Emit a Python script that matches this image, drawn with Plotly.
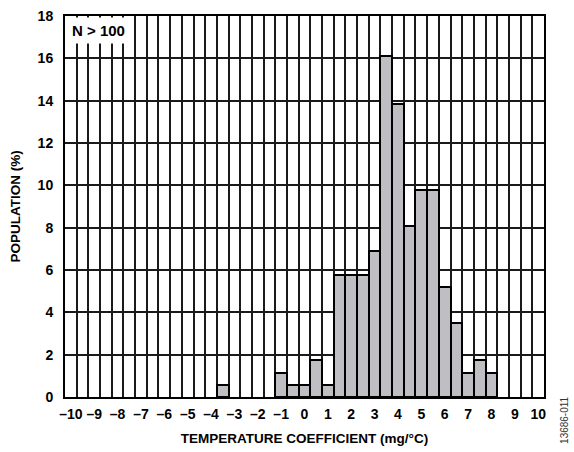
import plotly.graph_objects as go
import numpy as np

# Bin centers (mg/°C) and population (%)
bin_centers = [-3.5, -1.0, -0.5, 0.0, 0.5, 1.0, 1.5, 2.0, 2.5, 3.0, 3.5, 4.0, 4.5, 5.0, 5.5, 6.0, 6.5, 7.0, 7.5, 8.0]
population = [0.57, 1.15, 0.57, 0.57, 1.75, 0.57, 5.76, 5.76, 5.76, 6.92, 16.1, 13.85, 8.08, 9.8, 9.8, 5.2, 3.48, 1.15, 1.75, 1.15]

x_ticks = list(range(-10, 11))
x_ticktext = [("–" + str(abs(v))) if v < 0 else str(v) for v in x_ticks]
y_ticks = list(range(0, 19, 2))

FONT = "Liberation Sans, Arial, sans-serif"

fig = go.Figure()
fig.add_trace(go.Bar(
    x=bin_centers, y=population, width=0.5,
    marker=dict(color="#BFBFC3", line=dict(color="black", width=2)),
    showlegend=False,
))

grid_x = list(np.arange(-10.25, 10.26, 0.5))

fig.update_layout(
    width=574, height=452,
    margin=dict(l=65, r=30, t=16, b=55),
    paper_bgcolor="white", plot_bgcolor="white",
    bargap=0,
    font=dict(family=FONT, color="black"),
    xaxis=dict(
        range=[-10.25, 10.25], automargin=False,
        tickmode="array", tickvals=x_ticks, ticktext=x_ticktext,
        tickfont=dict(size=14, family=FONT, weight="bold"),
        showgrid=False, zeroline=False,
        showline=True, linecolor="black", linewidth=2, mirror=True,
        ticks="", ticklabelstandoff=3,
        minor=dict(tickmode="array", tickvals=grid_x, showgrid=True,
                   gridcolor="#1a1a1a", gridwidth=1.5, ticks=""),
        title=dict(text="<b>TEMPERATURE COEFFICIENT (mg/°C)</b>",
                   font=dict(size=13.5, family=FONT), standoff=13),
    ),
    yaxis=dict(
        range=[0, 18], automargin=False,
        tickmode="array", tickvals=y_ticks,
        tickfont=dict(size=14, family=FONT, weight="bold"),
        showgrid=True, gridcolor="#1a1a1a", gridwidth=1.5,
        zeroline=False,
        showline=True, linecolor="black", linewidth=2, mirror=True,
        ticks="", ticklabelstandoff=7,
        title=dict(text="<b>POPULATION (%)</b>",
                   font=dict(size=13.5, family=FONT), standoff=14),
    ),
)

fig.add_annotation(
    xref="paper", yref="paper", x=0.004, y=0.997,
    xanchor="left", yanchor="top",
    text="<b>N > 100</b>", showarrow=False,
    font=dict(size=15, family=FONT, color="black"),
    bgcolor="white", borderpad=4,
)

fig.add_annotation(
    xref="paper", yref="paper", x=1.044, y=-0.06,
    xanchor="center", yanchor="middle",
    text="13686-011", textangle=-90, showarrow=False,
    font=dict(size=10, family=FONT, color="#333333"),
)

fig.write_html("out.html")
